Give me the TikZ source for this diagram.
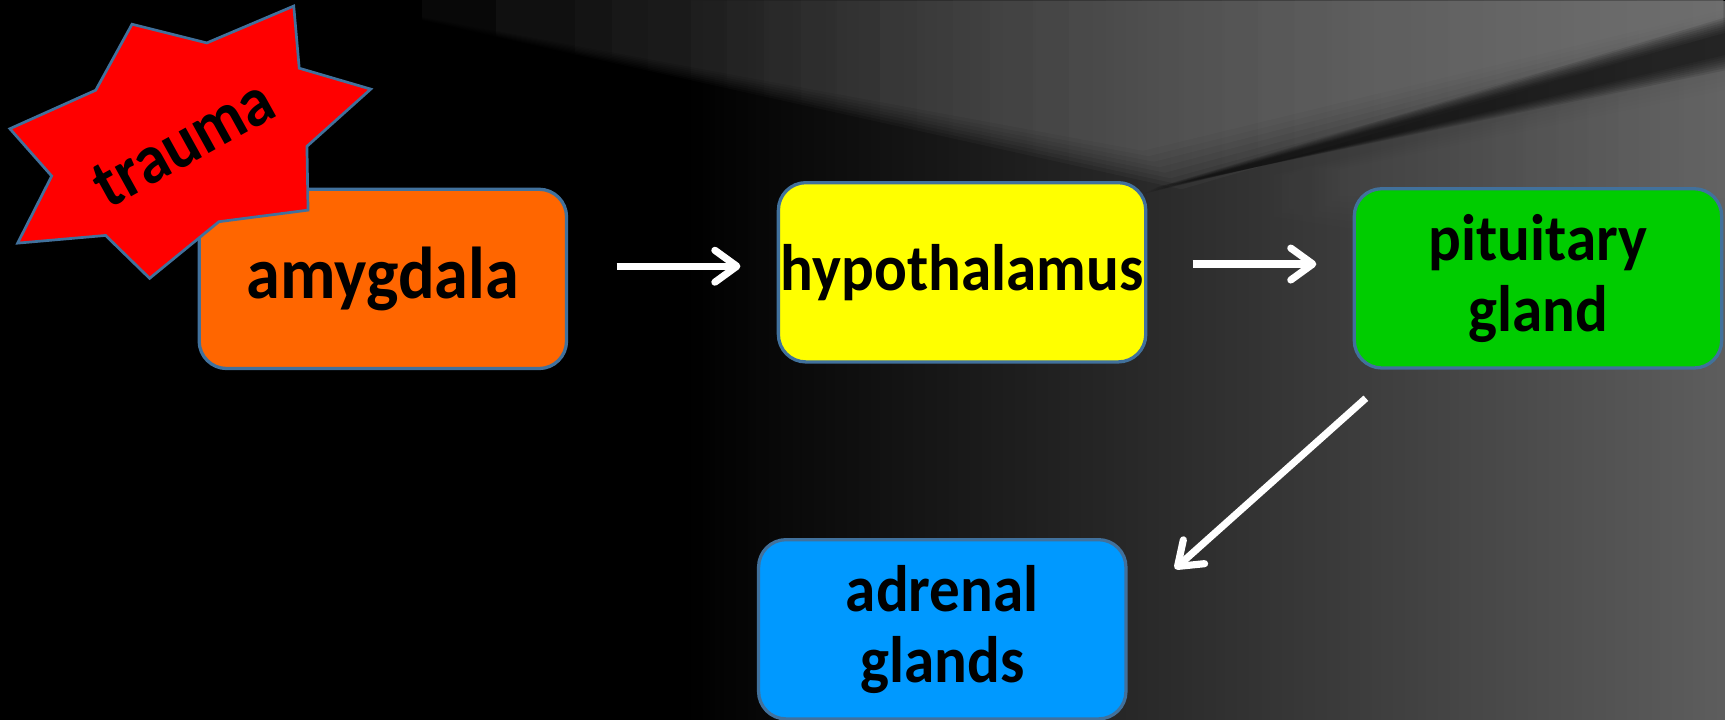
\documentclass[tikz,border=0pt]{standalone}
\usepackage{fontspec}
\setmainfont{Carlito}[FakeStretch=0.93]
\usetikzlibrary{arrows.meta,calc,fadings}
\definecolor{bordc}{RGB}{65,113,156}
\definecolor{orangebox}{HTML}{FF6600}
\definecolor{yellowbox}{HTML}{FFFF00}
\definecolor{greenbox}{HTML}{00CC00}
\definecolor{bluebox}{HTML}{0099FF}
\definecolor{starred}{HTML}{FF0000}
\definecolor{bgright}{RGB}{94,94,94}
\definecolor{bgray}{RGB}{120,120,120}
\tikzfading[name=fadeleft, left color=transparent!100, right color=transparent!0]
\tikzfading[name=rayfade, left color=transparent!100, middle color=transparent!93, right color=transparent!10]
\tikzset{
  box/.style={draw=bordc, line width=1.7pt, rounded corners=0.5cm,
    minimum width=6.68cm, minimum height=3.26cm, align=center,
    text=black, font=\bfseries\fontsize{34}{37}\selectfont, inner sep=0pt},
  flow/.style={draw=white, line width=0.13cm,
    -{Straight Barb[length=0.4cm,width=0.58cm,round]}},
}
\begin{document}
\begin{tikzpicture}[x=0.02cm,y=-0.02cm]
\useasboundingbox (0,0) rectangle (1568,654);
% background
\fill[black] (0,0) rectangle (1568,654);
\fill[bgright, path fading=fadeleft] (620,0) rectangle (1568,654);
% light ray from the top right corner (soft edges by stacking)
\foreach \d in {0,5,...,35} {
  \fill[bgray, path fading=rayfade, opacity=0.16]
    (300,0) -- (1568,0) -- (1568,{30-\d*0.6}) -- ({1075-\d},{172-\d}) -- cycle;
}
% lighter ray below the dark band
\foreach \d in {0,8,...,40} {
  \fill[bgray, path fading=fadeleft, opacity=0.07]
    ({1060+\d},{182-\d*0.1}) -- (1568,{62+\d*0.5}) -- (1568,{260-\d*2}) -- cycle;
}
% dark shadow band below the ray
\foreach \w in {0,4,...,28} {
  \fill[black, opacity=0.1]
    ({1040+\w*0.4},{176-\w*0.2}) -- (1568,{30-\w*0.5}) -- (1568,{50+\w*0.5}) -- cycle;
}
% boxes
\node[box, fill=orangebox, font=\bfseries\fontsize{38}{40}\selectfont] (amyg) at (348,253.5) {amygdala};
\node[box, fill=yellowbox] (hyp) at (874.5,247.5) {hypothalamus};
\node[box, fill=greenbox] (pit) at (1398,253) {pituitary\\gland};
\node[box, fill=bluebox] (adr) at (856.5,572) {adrenal\\glands};
% star
\fill[starred, draw=bordc, line width=1.4pt, line join=miter]
  (120,22) -- (188,39) -- (267,5.5) -- (272,62) -- (337,81) -- (279,133)
  -- (280,191) -- (199,201.5) -- (136,253) -- (96,214) -- (16,221)
  -- (47,160) -- (9,117) -- (87,82) -- cycle;
\node[rotate=29, font=\bfseries\fontsize{36}{38}\selectfont, text=black] (trauma) at (167,130) {trauma};
% arrows
\draw[flow] ($(amyg.east)+(44,-11.5)$) -- ($(hyp.west)+(-33,-5.5)$);
\draw[flow] ($(hyp.east)+(41,-7.5)$) -- ($(pit.west)+(-33,-13)$);
\draw[flow] ($(pit.south west)+(12,26)$) -- ($(adr.north east)+(43,28)$);
\end{tikzpicture}
\end{document}
